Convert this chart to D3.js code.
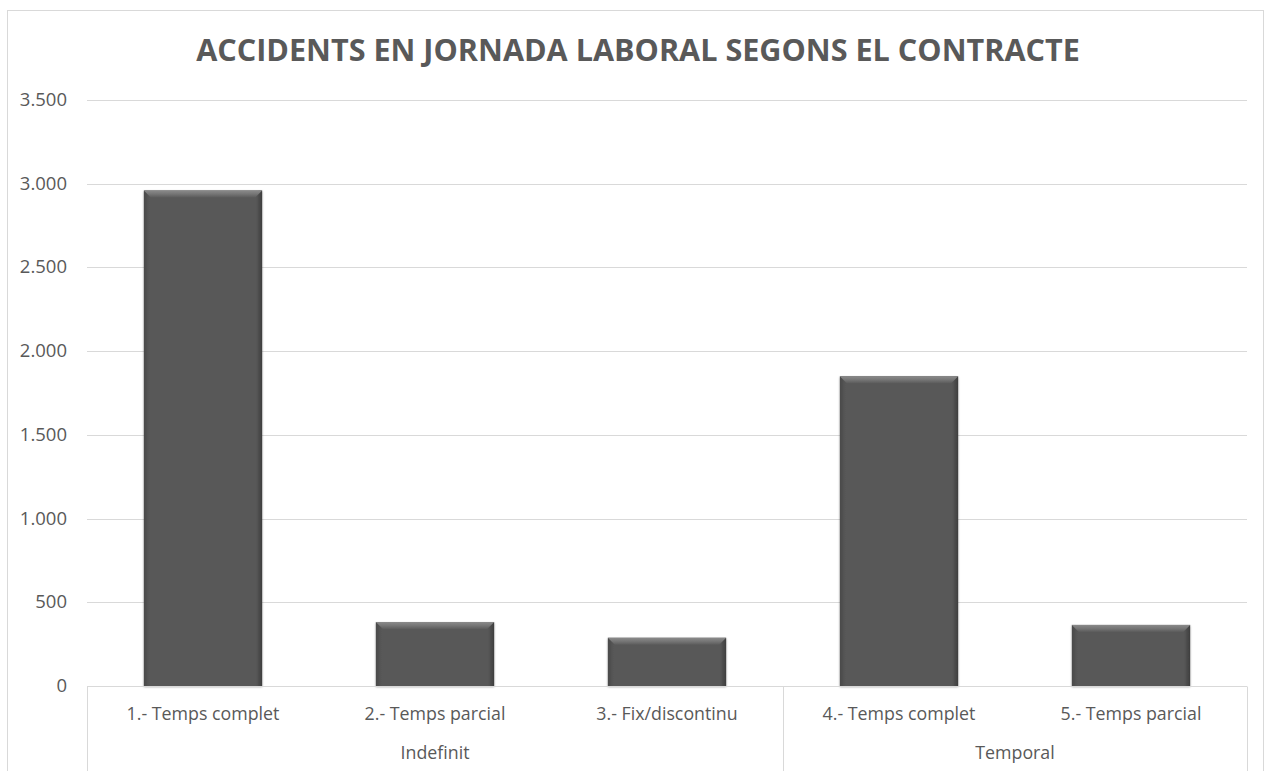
<!DOCTYPE html>
<html>
<head>
<meta charset="utf-8">
<script src="https://d3js.org/d3.v7.min.js"></script>
<style>
  body { margin: 0; background: #fff; font-family: "Open Sans", sans-serif; }
  svg { display: block; }
</style>
</head>
<body>
<svg id="chart" width="1270" height="771"></svg>
<script>
// data
const categories = ["1.- Temps complet", "2.- Temps parcial", "3.- Fix/discontinu", "4.- Temps complet", "5.- Temps parcial"];
const groups = ["Indefinit", "Indefinit", "Indefinit", "Temporal", "Temporal"];
const values = [2960, 382, 288, 1850, 365];
const yTicks = [0, 500, 1000, 1500, 2000, 2500, 3000, 3500];

const svg = d3.select("#chart");
const margin = {left: 87, right: 23, top: 100, bottom: 85};
const W = 1270, H = 771;
const labelSize = 17.8;

// outer chart border
svg.append("rect")
   .attr("x", 7.5).attr("y", 10.5)
   .attr("width", 1256).attr("height", 780)
   .attr("fill", "none").attr("stroke", "#d9d9d9");

const title = svg.append("text")
   .attr("x", 638).attr("y", 61)
   .attr("text-anchor", "middle")
   .attr("font-size", 28).attr("font-weight", "bold")
   .attr("fill", "#595959")
   .text("ACCIDENTS EN JORNADA LABORAL SEGONS EL CONTRACTE");
// fit title to the width it has in the reference
const tw = title.node().getComputedTextLength();
title.attr("font-size", 28 * 884 / tw);

const x = d3.scaleBand()
    .domain(categories.map((d, i) => i))
    .range([margin.left, W - margin.right])
    .paddingInner(0.49).paddingOuter(0.245);

const y = d3.scaleLinear().domain([0, 3500]).range([H - margin.bottom, margin.top]);

// gridlines
svg.append("g").selectAll("line")
   .data(yTicks.filter(d => d > 0))
   .enter().append("line")
   .attr("x1", margin.left).attr("x2", W - margin.right)
   .attr("y1", d => Math.round(y(d)) + 0.5).attr("y2", d => Math.round(y(d)) + 0.5)
   .attr("stroke", "#d9d9d9");

// y tick labels
svg.append("g").selectAll("text")
   .data(yTicks)
   .enter().append("text")
   .attr("x", 67).attr("y", d => y(d) + 6)
   .attr("text-anchor", "end")
   .attr("font-size", 18.5).attr("fill", "#595959")
   .text(d => d3.format(",")(d).replace(/,/g, "."));

// gradients for the bevelled bars
const defs = svg.append("defs");
const topGrad = defs.append("linearGradient").attr("id", "bevTop")
    .attr("x1", 0).attr("y1", 0).attr("x2", 0).attr("y2", 1);
topGrad.append("stop").attr("offset", 0).attr("stop-color", "#8a8a8a");
topGrad.append("stop").attr("offset", 0.5).attr("stop-color", "#767676");
topGrad.append("stop").attr("offset", 1).attr("stop-color", "#5c5c5c");
const bodyGrad = defs.append("linearGradient").attr("id", "bevBody")
    .attr("x1", 0).attr("y1", 0).attr("x2", 1).attr("y2", 0);
bodyGrad.append("stop").attr("offset", 0).attr("stop-color", "#4a4a4a");
bodyGrad.append("stop").attr("offset", 0.05).attr("stop-color", "#585858");
bodyGrad.append("stop").attr("offset", 0.95).attr("stop-color", "#585858");
bodyGrad.append("stop").attr("offset", 1).attr("stop-color", "#3e3e3e");
const shadow = defs.append("filter").attr("id", "shadow")
    .attr("x", "-10%").attr("y", "-10%").attr("width", "120%").attr("height", "120%");
shadow.append("feDropShadow").attr("dx", 0).attr("dy", 1).attr("stdDeviation", 1.2)
    .attr("flood-color", "#000").attr("flood-opacity", 0.35);

const bars = svg.append("g").selectAll("g")
   .data(values)
   .enter().append("g");

bars.append("rect")
   .attr("x", (d, i) => x(i)).attr("y", d => y(d))
   .attr("width", x.bandwidth()).attr("height", d => y(0) - y(d))
   .attr("fill", "url(#bevBody)")
   .attr("filter", "url(#shadow)");

const bev = 7;
bars.append("path")
   .attr("d", (d, i) => {
       const x0 = x(i), x1 = x(i) + x.bandwidth(), t = y(d);
       return `M${x0},${t}L${x1},${t}L${x1 - bev},${t + bev}L${x0 + bev},${t + bev}Z`;
   })
   .attr("fill", "url(#bevTop)");

// category axis
const axisY = Math.round(y(0)) + 0.5;
svg.append("line")
   .attr("x1", margin.left).attr("x2", W - margin.right)
   .attr("y1", axisY).attr("y2", axisY)
   .attr("stroke", "#d9d9d9");

const step = x.step();
const start = margin.left;
const seps = [0, 3, 5];
svg.append("g").selectAll("line")
   .data(seps)
   .enter().append("line")
   .attr("x1", d => Math.round(start + d * step) + 0.5)
   .attr("x2", d => Math.round(start + d * step) + 0.5)
   .attr("y1", axisY).attr("y2", H)
   .attr("stroke", "#d9d9d9");

svg.append("g").selectAll("text")
   .data(categories)
   .enter().append("text")
   .attr("x", (d, i) => x(i) + x.bandwidth() / 2)
   .attr("y", 720)
   .attr("text-anchor", "middle")
   .attr("font-size", labelSize).attr("fill", "#595959")
   .text(d => d);

const groupNames = [...new Set(groups)];
svg.append("g").selectAll("text")
   .data(groupNames)
   .enter().append("text")
   .attr("x", g => {
       const idx = groups.map((d, i) => d === g ? i : -1).filter(i => i >= 0);
       return start + (idx[0] + idx[idx.length - 1] + 1) / 2 * step;
   })
   .attr("y", 759)
   .attr("text-anchor", "middle")
   .attr("font-size", labelSize).attr("fill", "#595959")
   .text(d => d);
</script>
</body>
</html>
